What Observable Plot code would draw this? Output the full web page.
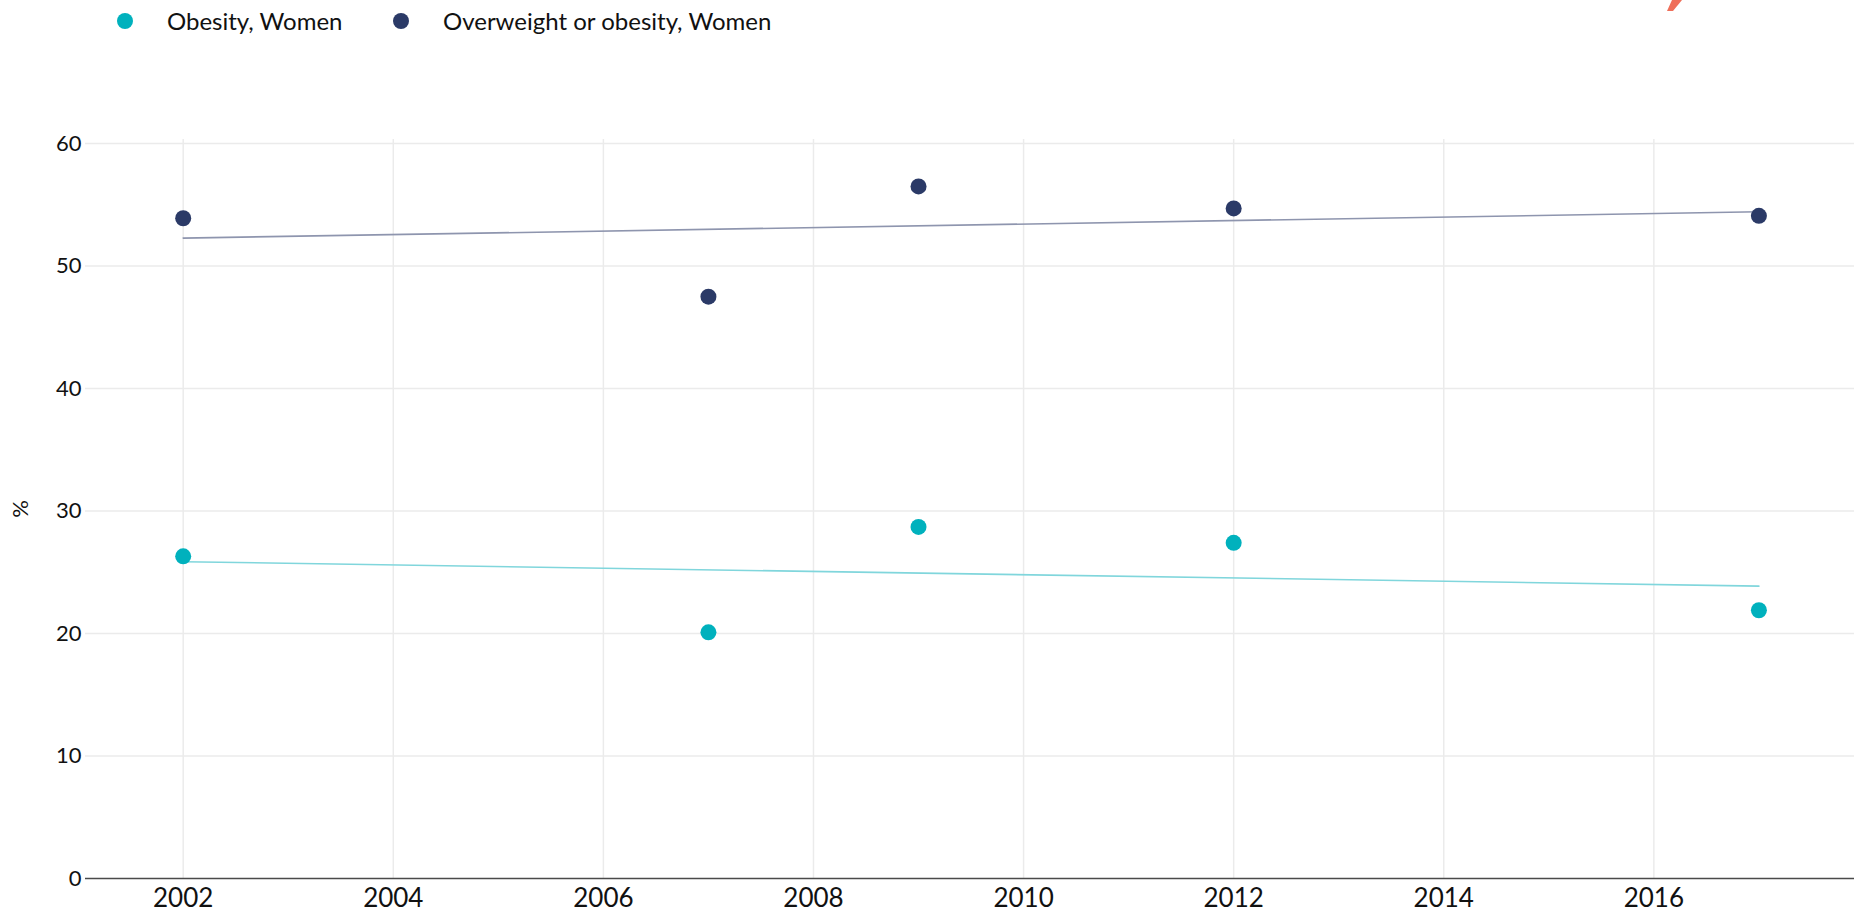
<!DOCTYPE html>
<html>
<head>
<meta charset="utf-8">
<script src="https://cdn.jsdelivr.net/npm/d3@7"></script>
<script src="https://cdn.jsdelivr.net/npm/@observablehq/plot@0.6"></script>
<style>
  html, body { margin: 0; padding: 0; background: #fff; }
  body { width: 1854px; height: 915px; overflow: hidden; position: relative; font-family: Lato, "Open Sans", sans-serif; }
  #legend { position: relative; height: 60px; }
  .dot { position: absolute; width: 16px; height: 16px; border-radius: 50%; top: 13px; }
  .lab { position: absolute; top: 6px; font-size: 24px; line-height: 30px; color: #111; white-space: nowrap; }
  #logo { position: absolute; left: 0; top: 0; }
  #chart svg { display: block; }
</style>
</head>
<body>
<div id="legend"></div>
<svg id="logo" width="1854" height="20"><polygon points="1672,0 1682,0 1673,11 1667,11" fill="#EF6F5A"></polygon></svg>
<div id="chart"></div>
<script>
const years = [2002, 2007, 2009, 2012, 2017];
const obesityWomen = [26.3, 20.1, 28.7, 27.4, 21.9];
const overweightWomen = [53.9, 47.5, 56.5, 54.7, 54.1];
const seriesNames = ["Obesity, Women", "Overweight or obesity, Women"];
const dotColors = ["#00B1BD", "#2B3A67"];
const trendColors = ["#80D6DC", "#8E95AE"];
const xTicks = [2002, 2004, 2006, 2008, 2010, 2012, 2014, 2016];
const yTicks = [0, 10, 20, 30, 40, 50, 60];

const rows = [];
years.forEach((yr, i) => rows.push({year: yr, value: obesityWomen[i], series: seriesNames[0]}));
years.forEach((yr, i) => rows.push({year: yr, value: overweightWomen[i], series: seriesNames[1]}));

// legend
const legend = document.getElementById("legend");
const legendPos = [{dot: 117, text: 167}, {dot: 393, text: 443}];
seriesNames.forEach((s, i) => {
  const d = document.createElement("div");
  d.className = "dot";
  d.style.left = legendPos[i].dot + "px";
  d.style.background = dotColors[i];
  legend.appendChild(d);
  const t = document.createElement("div");
  t.className = "lab";
  t.style.left = legendPos[i].text + "px";
  t.textContent = s;
  legend.appendChild(t);
});

const chart = Plot.plot({
  width: 1854,
  height: 855,
  marginLeft: 85,
  marginRight: 0,
  marginTop: 79,
  marginBottom: 37,
  style: {fontFamily: "Lato, 'Open Sans', sans-serif", color: "#111", background: "#fff"},
  x: {domain: [2001.07, 2017.91]},
  y: {domain: [0, 60.33]},
  color: {domain: seriesNames, range: dotColors},
  marks: [
    Plot.gridX(xTicks, {stroke: "#ebebeb", strokeOpacity: 1, strokeWidth: 1.5}),
    Plot.gridY(yTicks.filter(d => d > 0), {stroke: "#ebebeb", strokeOpacity: 1, strokeWidth: 1.5}),
    Plot.ruleY([0], {stroke: "#4a4a4a", strokeWidth: 1.5}),
    Plot.linearRegressionY(rows.filter(d => d.series === seriesNames[0]), {x: "year", y: "value", stroke: trendColors[0], strokeWidth: 1.6, ci: 0}),
    Plot.linearRegressionY(rows.filter(d => d.series === seriesNames[1]), {x: "year", y: "value", stroke: trendColors[1], strokeWidth: 1.6, ci: 0}),
    Plot.dot(rows, {x: "year", y: "value", fill: "series", r: 8}),
    Plot.axisX({ticks: xTicks, tickFormat: d => String(d), tickSize: 0, tickPadding: 10, fontSize: 26, label: null}),
    Plot.axisY({ticks: yTicks, tickSize: 0, tickPadding: 4, fontSize: 22, label: "%", labelAnchor: "center", labelArrow: "none", labelOffset: 73})
  ]
});
document.getElementById("chart").appendChild(chart);
</script>
</body>
</html>
